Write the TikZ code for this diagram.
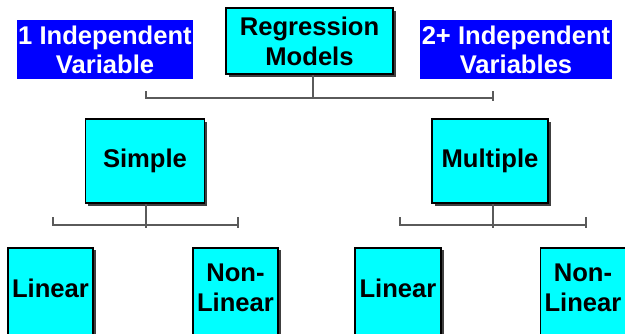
\documentclass[tikz,border=0pt]{standalone}
\usepackage{fontspec}
\setmainfont{Liberation Sans}
\usetikzlibrary{shadows}
\definecolor{boxcyan}{HTML}{00FFFF}
\definecolor{tagblue}{HTML}{0000FF}
\definecolor{linkgray}{HTML}{5A5A5A}
\tikzset{
  labeltext/.style={align=center, font=\bfseries\fontsize{25.6}{30}\selectfont},
  model/.style={labeltext, draw=black, line width=1.5pt, fill=boxcyan, inner sep=0pt,
    drop shadow={shadow xshift=2.5pt, shadow yshift=-2.5pt, fill=black!75, opacity=1}},
  tag/.style={fill=tagblue, inner sep=0pt, text=white, align=center,
    font=\bfseries\fontsize{25.6}{29}\selectfont},
  link/.style={draw=linkgray, line width=1.6pt}
}
\begin{document}
\begin{tikzpicture}[x=1pt, y=-1pt]
\useasboundingbox (0,0) rectangle (625,333);
\begin{scope}
\clip (0,0) rectangle (625,333);

% root
\node[model, minimum width=167pt, minimum height=66pt] (rm) at (309.5,41) {Regression\\Models};

% blue captions (text clipped to its box)
\begin{scope}
  \clip (17,20) rectangle (193,79);
  \node[tag, minimum width=176pt, minimum height=59pt] (one) at (105,49.5) {1 Independent\\Variable};
\end{scope}
\begin{scope}
  \clip (420,20) rectangle (612,79);
  \node[tag, minimum width=192pt, minimum height=59pt] (two) at (516,49.5) {2+ Independent\\Variables};
\end{scope}

% second level
\node[model, minimum width=119pt, minimum height=84pt] (simple) at (145,161) {Simple};
\node[model, minimum width=116pt, minimum height=84pt] (multiple) at (490,161) {Multiple};

% leaves: boxes run past the lower edge, labels sit in their visible part
\node[model, minimum width=85pt, minimum height=100pt, anchor=north] (lin1) at (50.5,247) {};
\node[labeltext] (lin1t) at (50.5,288) {Linear};
\node[model, minimum width=85pt, minimum height=100pt, anchor=north] (non1) at (235.5,247) {};
\node[labeltext] (non1t) at (235.5,288) {Non-\\Linear};
\node[model, minimum width=86pt, minimum height=100pt, anchor=north] (lin2) at (398,247) {};
\node[labeltext] (lin2t) at (398,288) {Linear};
\node[model, minimum width=85pt, minimum height=100pt, anchor=north] (non2) at (583,247) {};
\node[labeltext] (non2t) at (583,288) {Non-\\Linear};

% bus from the root
\coordinate (b0) at (313,98);
\coordinate (b0l) at (146,98);
\coordinate (b0r) at (493,98);
\draw[link] (rm.south -| b0) -- (b0);
\draw[link] (b0l) -- (b0r);
\draw[link] ([yshift=-0.8pt]b0l) -- ([yshift=7pt]b0l);
\draw[link] ([yshift=-2.5pt]b0r) -- ([yshift=7pt]b0r);

% bus below Simple
\coordinate (b1) at (146,225);
\coordinate (b1l) at (53,225);
\coordinate (b1r) at (238,225);
\draw[link] (simple.south -| b1) -- ([yshift=-3pt]b1);
\draw[link] (b1l) -- (b1r);
\draw[link] ([yshift=-0.8pt]b1l) -- ([yshift=8pt]b1l);
\draw[link] ([yshift=-2.5pt]b1r) -- ([yshift=8pt]b1r);

% bus below Multiple
\coordinate (b2) at (493,225);
\coordinate (b2l) at (400,225);
\coordinate (b2r) at (586,225);
\draw[link] (multiple.south -| b2) -- ([yshift=-3pt]b2);
\draw[link] (b2l) -- (b2r);
\draw[link] ([yshift=-0.8pt]b2l) -- ([yshift=8pt]b2l);
\draw[link] ([yshift=-2.5pt]b2r) -- ([yshift=8pt]b2r);
\end{scope}
\end{tikzpicture}
\end{document}
